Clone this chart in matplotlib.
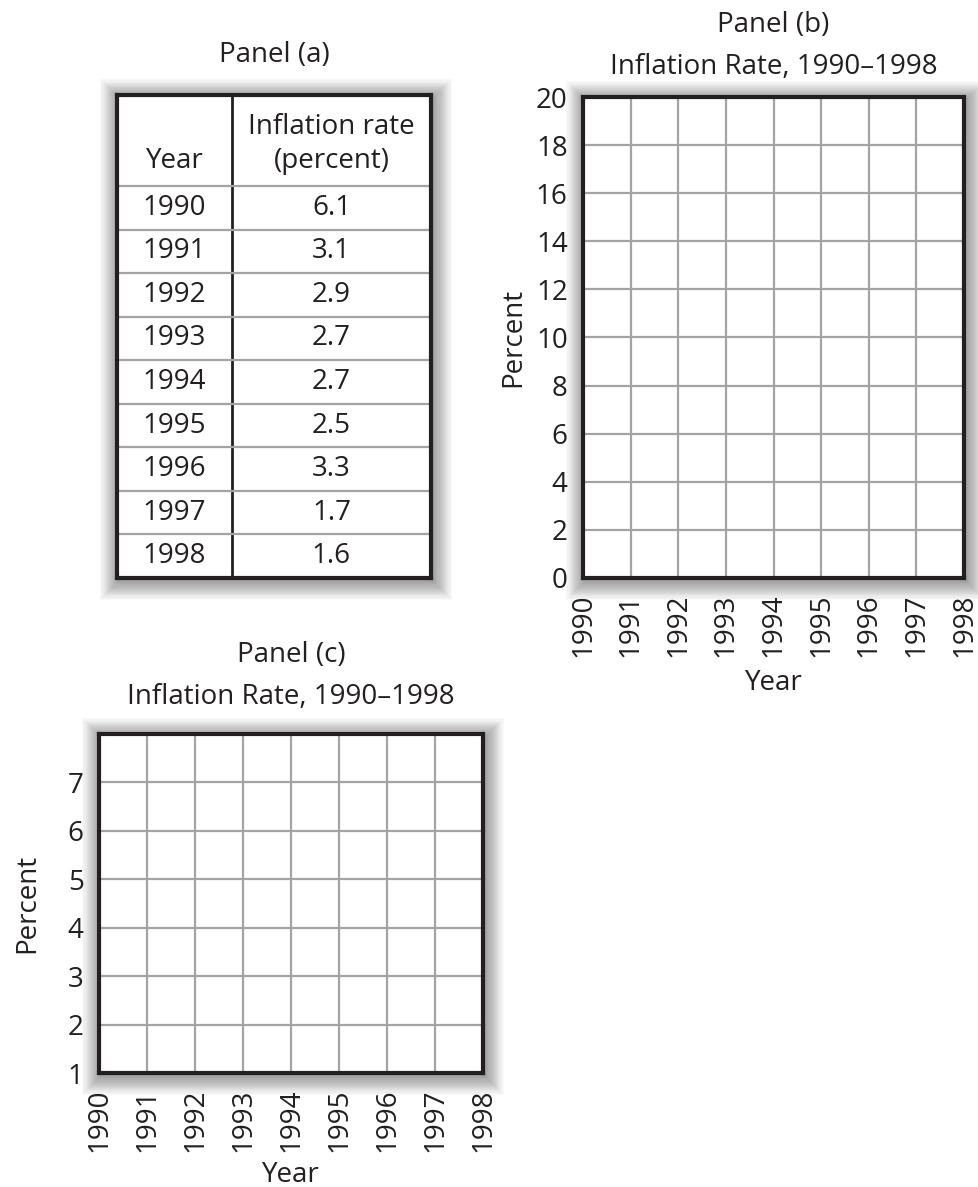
import matplotlib.pyplot as plt
from matplotlib.patches import Rectangle

# Panel (a) table data
years = [1990, 1991, 1992, 1993, 1994, 1995, 1996, 1997, 1998]
inflation_rates = [6.1, 3.1, 2.9, 2.7, 2.7, 2.5, 3.3, 1.7, 1.6]

# blank graph grids for panels (b) and (c)
panel_b_yticks = [0, 2, 4, 6, 8, 10, 12, 14, 16, 18, 20]
panel_c_yticks = [1, 2, 3, 4, 5, 6, 7]
panel_c_ylim = (1, 8)

W, H = 979, 1187
TEXT = "#231f20"
GRID = "#a3a3a3"
FS = 20

plt.rcParams["font.family"] = ["Open Sans", "DejaVu Sans"]
plt.rcParams["text.color"] = TEXT

fig = plt.figure(figsize=(W / 100, H / 100), dpi=100)


def px_axes(left, top, right, bottom):
    """Add axes given in pixel coordinates (origin top-left)."""
    return fig.add_axes([left / W, 1 - bottom / H, (right - left) / W, (bottom - top) / H])


def add_shadow(left, top, right, bottom, steps=18, spread=1.1, alpha=0.022):
    """Soft drop shadow drawn as stacked translucent rectangles."""
    for k in range(steps):
        d = k * spread
        x0, y0 = left - d + 2, top - d + 3
        x1, y1 = right + d + 2, bottom + d + 3
        fig.patches.append(
            Rectangle(
                (x0 / W, 1 - y1 / H),
                (x1 - x0) / W,
                (y1 - y0) / H,
                transform=fig.transFigure,
                facecolor="black",
                edgecolor="none",
                alpha=alpha,
                zorder=-1,
            )
        )


def style_graph(ax, yticks, ylim):
    ax.set_xlim(years[0], years[-1])
    ax.set_ylim(*ylim)
    ax.set_xticks(years)
    ax.set_xticklabels([str(y) for y in years], rotation=90)
    ax.set_yticks(yticks)
    ax.set_yticklabels([str(v) for v in yticks])
    ax.tick_params(length=0, labelsize=FS, colors=TEXT, pad=11)
    ax.grid(True, color=GRID, linewidth=1.6)
    ax.set_axisbelow(True)
    for s in ax.spines.values():
        s.set_linewidth(3)
        s.set_color(TEXT)
        s.set_zorder(5)
    ax.set_xlabel("Year", fontsize=FS, color=TEXT)
    ax.set_ylabel("Percent", fontsize=FS, color=TEXT)


# ---- Panel (a): table ----
t_left, t_top, t_right, t_bottom = 117, 95, 431, 578
add_shadow(t_left, t_top, t_right, t_bottom)
ax_a = px_axes(t_left, t_top, t_right, t_bottom)
tw, th = t_right - t_left, t_bottom - t_top
header_h = 91
row_h = (th - header_h) / len(years)
col_split = 115
ax_a.set_xlim(0, tw)
ax_a.set_ylim(th, 0)
ax_a.set_xticks([])
ax_a.set_yticks([])
for s in ax_a.spines.values():
    s.set_linewidth(3)
    s.set_color(TEXT)
ax_a.axvline(col_split, color=TEXT, linewidth=2)
ax_a.text(col_split / 2, header_h * 0.73, "Year", ha="center", va="center", fontsize=FS)
ax_a.text((col_split + tw) / 2, header_h * 0.35, "Inflation rate", ha="center", va="center", fontsize=FS)
ax_a.text((col_split + tw) / 2, header_h * 0.73, "(percent)", ha="center", va="center", fontsize=FS)
for i, (yr, rate) in enumerate(zip(years, inflation_rates)):
    y0 = header_h + i * row_h
    ax_a.axhline(y0, color=GRID, linewidth=1.6)
    ax_a.text(col_split / 2, y0 + row_h / 2, str(yr), ha="center", va="center", fontsize=FS)
    ax_a.text((col_split + tw) / 2, y0 + row_h / 2, f"{rate:.1f}", ha="center", va="center", fontsize=FS)
fig.text((t_left + t_right) / 2 / W, 1 - 55 / H, "Panel (a)", ha="center", va="center", fontsize=FS)

# ---- Panel (b) ----
b_left, b_top, b_right, b_bottom = 583, 97, 964, 578
add_shadow(b_left, b_top, b_right, b_bottom)
ax_b = px_axes(b_left, b_top, b_right, b_bottom)
style_graph(ax_b, panel_b_yticks, (panel_b_yticks[0], panel_b_yticks[-1]))
ax_b.xaxis.set_label_coords(0.5, -(683 - b_bottom) / (b_bottom - b_top))
ax_b.xaxis.label.set_va("center")
ax_b.yaxis.set_label_coords(-(b_left - 513) / (b_right - b_left), 0.5)
ax_b.yaxis.label.set_va("center")
bx = (b_left + b_right) / 2 / W
fig.text(bx, 1 - 25 / H, "Panel (b)", ha="center", va="center", fontsize=FS)
fig.text(bx, 1 - 67 / H, "Inflation Rate, 1990\u20131998", ha="center", va="center", fontsize=FS)

# ---- Panel (c) ----
c_left, c_top, c_right, c_bottom = 99, 734, 483, 1073
add_shadow(c_left, c_top, c_right, c_bottom)
ax_c = px_axes(c_left, c_top, c_right, c_bottom)
style_graph(ax_c, panel_c_yticks, panel_c_ylim)
ax_c.xaxis.set_label_coords(0.5, -(1175 - c_bottom) / (c_bottom - c_top))
ax_c.xaxis.label.set_va("center")
ax_c.yaxis.set_label_coords(-(c_left - 27) / (c_right - c_left), 0.5)
ax_c.yaxis.label.set_va("center")
cx = (c_left + c_right) / 2 / W
fig.text(cx, 1 - 655 / H, "Panel (c)", ha="center", va="center", fontsize=FS)
fig.text(cx, 1 - 697 / H, "Inflation Rate, 1990\u20131998", ha="center", va="center", fontsize=FS)

fig.savefig("out.png", dpi=100)
